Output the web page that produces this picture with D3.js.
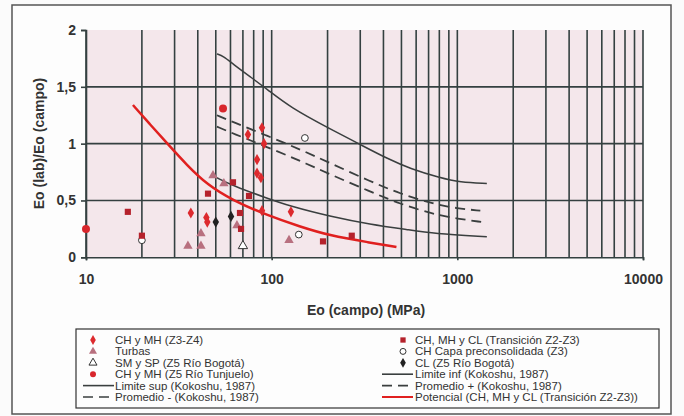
<!DOCTYPE html>
<html>
<head>
<meta charset="utf-8">
<script src="https://cdn.jsdelivr.net/npm/d3@7"></script>
<style>
  body { margin: 0; background: #fbfbfb; }
  svg { font-family: "Liberation Sans", Arial, sans-serif; }
  .tick-lbl { font-size: 14px; font-weight: bold; fill: #333; }
  .leg { font-size: 11.5px; fill: #333; }
</style>
</head>
<body>
<div id="chart"></div>
<script>
// points: [Eo campo (MPa), Eo lab / Eo campo]
var chMhZ3Z4 = [[36.7, 0.39], [44.5, 0.35], [45, 0.31], [74.5, 1.08], [88.7, 1.14], [91, 1.0],
                [83.4, 0.86], [83.4, 0.74], [87.5, 0.70], [88.7, 0.41], [127, 0.40]];
var turbas = [[35.4, 0.10], [41.6, 0.21], [41.6, 0.10], [48.3, 0.72], [55.3, 0.65], [65, 0.28], [124, 0.15]];
var smSp = [[70, 0.10]];
var chMhTunjuelo = [[10, 0.25], [54.7, 1.31]];
var transicion = [[16.8, 0.40], [20, 0.19], [45.4, 0.56], [61.9, 0.66], [75.5, 0.54], [67.5, 0.39],
                  [68.4, 0.25], [189, 0.14], [270, 0.19]];
var capaPrecons = [[151, 1.05], [20, 0.15], [140, 0.20]];
var clBogota = [[50, 0.31], [60.4, 0.36]];

// curves
var limiteSup = [[50.7, 1.79], [55, 1.77], [61.9, 1.70], [76.4, 1.59], [94.4, 1.48], [125.6, 1.32], [206, 1.13],
                 [310, 0.98], [418, 0.87], [556, 0.78], [806, 0.70], [1033, 0.66], [1442, 0.65]];
var promedioMas = [[50.7, 1.25], [61.9, 1.19], [94.4, 1.07], [142, 0.95], [206, 0.83], [338, 0.67],
                   [490, 0.56], [740, 0.47], [1000, 0.43], [1330, 0.41]];
var promedioMenos = [[50.7, 1.15], [61.9, 1.09], [94.4, 0.97], [142, 0.85], [206, 0.73], [338, 0.58],
                     [490, 0.47], [740, 0.38], [1000, 0.34], [1360, 0.31]];
var limiteInf = [[50.7, 0.70], [61.9, 0.63], [94.4, 0.52], [125.6, 0.45], [206, 0.36], [338, 0.29],
                 [556, 0.24], [740, 0.21], [1442, 0.18]];
var potencial = [[17.9, 1.34], [22.1, 1.17], [27.3, 1.005], [35, 0.81], [44.9, 0.64], [61.9, 0.50],
                 [94.4, 0.37], [142, 0.27], [206, 0.19], [338, 0.13], [470, 0.09]];

var xTickLabels = [10, 100, 1000, 10000];
var yTickLabels = [0, 0.5, 1, 1.5, 2];

var W = 684, H = 416;
var svg = d3.select("#chart").append("svg").attr("width", W).attr("height", H);

// outer frame
svg.append("rect").attr("x", 12).attr("y", 5).attr("width", 659).attr("height", 409)
    .attr("fill", "#fdfdfd").attr("stroke", "#555").attr("stroke-width", 1.5);

var x = d3.scaleLog().domain([10, 10000]).range([86, 643]);
var y = d3.scaleLinear().domain([0, 2]).range([257.3, 30]);

// plot background
svg.append("rect").attr("x", x(10)).attr("y", y(2))
    .attr("width", x(10000) - x(10)).attr("height", y(0) - y(2))
    .attr("fill", "#f4e7eb");

var gridColor = "#344040";

// vertical grid at every log tick
svg.append("g").selectAll("line").data(x.ticks()).enter().append("line")
    .attr("x1", function(d){ return x(d); }).attr("x2", function(d){ return x(d); })
    .attr("y1", y(2)).attr("y2", y(0))
    .attr("stroke", gridColor).attr("stroke-width", 1.6);

// horizontal grid
svg.append("g").selectAll("line").data([0.5, 1, 1.5]).enter().append("line")
    .attr("x1", x(10)).attr("x2", x(10000))
    .attr("y1", function(d){ return y(d); }).attr("y2", function(d){ return y(d); })
    .attr("stroke", gridColor).attr("stroke-width", 1.6);

// axes
var xAxis = d3.axisBottom(x).tickValues(xTickLabels).tickFormat(d3.format("d")).tickSize(3).tickPadding(14);
var yAxis = d3.axisLeft(y).tickValues(yTickLabels)
    .tickFormat(function(d){ return String(d).replace(".", ","); }).tickSize(5).tickPadding(5);

var gx = svg.append("g").attr("transform", "translate(0," + y(0) + ")").call(xAxis);
var gy = svg.append("g").attr("transform", "translate(" + x(10) + ",0)").call(yAxis);
[gx, gy].forEach(function(g){
    g.select(".domain").attr("stroke", gridColor).attr("stroke-width", 1.6);
    g.selectAll(".tick line").attr("stroke", gridColor).attr("stroke-width", 1.6);
    g.selectAll(".tick text").attr("class", "tick-lbl").attr("font-family", null).attr("font-size", null);
});

// axis titles
svg.append("text").attr("x", 366).attr("y", 315).attr("text-anchor", "middle")
    .attr("class", "tick-lbl").style("font-size", "14px").text("Eo (campo) (MPa)");
svg.append("text").attr("transform", "translate(44,143.5) rotate(-90)").attr("text-anchor", "middle")
    .attr("class", "tick-lbl").style("font-size", "14px").text("Eo (lab)/Eo (campo)");

// curves
var line = d3.line().x(function(d){ return x(d[0]); }).y(function(d){ return y(d[1]); }).curve(d3.curveBasis);
var curveStyles = [
    { data: limiteSup, color: "#3a3f3f", width: 1.5, dash: null },
    { data: promedioMas, color: "#3a3f3f", width: 1.8, dash: "10,6" },
    { data: promedioMenos, color: "#3a3f3f", width: 1.8, dash: "10,6" },
    { data: limiteInf, color: "#3a3f3f", width: 1.5, dash: null },
    { data: potencial, color: "#e0201f", width: 2.5, dash: null }
];
curveStyles.forEach(function(c){
    svg.append("path").datum(c.data).attr("d", line)
        .attr("fill", "none").attr("stroke", c.color).attr("stroke-width", c.width)
        .attr("stroke-dasharray", c.dash);
});

// markers
var series = [
    { data: turbas, shape: d3.symbolTriangle, size: 38, fill: "#b8707f", stroke: "none" },
    { data: smSp, shape: d3.symbolTriangle, size: 38, fill: "#fff", stroke: "#333" },
    { data: capaPrecons, shape: d3.symbolCircle, size: 36, fill: "#fff", stroke: "#333" },
    { data: transicion, shape: d3.symbolSquare, size: 38, fill: "#b5222c", stroke: "none" },
    { data: chMhZ3Z4, shape: d3.symbolDiamond, size: 36, fill: "#dd2a2e", stroke: "none" },
    { data: chMhTunjuelo, shape: d3.symbolCircle, size: 50, fill: "#d8262c", stroke: "none" },
    { data: clBogota, shape: d3.symbolDiamond, size: 36, fill: "#222", stroke: "none" }
];
series.forEach(function(s){
    svg.append("g").selectAll("path").data(s.data).enter().append("path")
        .attr("transform", function(d){ return "translate(" + x(d[0]) + "," + y(d[1]) + ")"; })
        .attr("d", d3.symbol().type(s.shape).size(s.size))
        .attr("fill", s.fill).attr("stroke", s.stroke).attr("stroke-width", 1);
});

// legend
var legendLeft = [
    { label: "CH y MH (Z3-Z4)", kind: "sym", shape: d3.symbolDiamond, fill: "#dd2a2e", stroke: "none" },
    { label: "Turbas", kind: "sym", shape: d3.symbolTriangle, fill: "#b8707f", stroke: "none" },
    { label: "SM y SP (Z5 Río Bogotá)", kind: "sym", shape: d3.symbolTriangle, fill: "#fff", stroke: "#333" },
    { label: "CH y MH (Z5 Río Tunjuelo)", kind: "sym", shape: d3.symbolCircle, fill: "#d8262c", stroke: "none" },
    { label: "Limite sup (Kokoshu, 1987)", kind: "line", color: "#3a3f3f", dash: null },
    { label: "Promedio - (Kokoshu, 1987)", kind: "line", color: "#3a3f3f", dash: "10,6" }
];
var legendRight = [
    { label: "CH, MH y CL (Transición Z2-Z3)", kind: "sym", shape: d3.symbolSquare, fill: "#b5222c", stroke: "none" },
    { label: "CH Capa preconsolidada (Z3)", kind: "sym", shape: d3.symbolCircle, fill: "#fff", stroke: "#333" },
    { label: "CL (Z5 Río Bogotá)", kind: "sym", shape: d3.symbolDiamond, fill: "#222", stroke: "none" },
    { label: "Limite inf (Kokoshu, 1987)", kind: "line", color: "#3a3f3f", dash: null },
    { label: "Promedio + (Kokoshu, 1987)", kind: "line", color: "#3a3f3f", dash: "10,6" },
    { label: "Potencial (CH, MH y CL (Transición Z2-Z3))", kind: "line", color: "#e0201f", dash: null }
];

svg.append("rect").attr("x", 76).attr("y", 329).attr("width", 583).attr("height", 79)
    .attr("fill", "#fdfdfd").attr("stroke", "#333").attr("stroke-width", 1.2);

function drawLegend(items, symX, lineX0, lineX1, textX){
    items.forEach(function(it, i){
        var cy = 340 + i * 11.4;
        if (it.kind === "sym") {
            svg.append("path").attr("transform", "translate(" + symX + "," + cy + ")")
                .attr("d", d3.symbol().type(it.shape).size(28))
                .attr("fill", it.fill).attr("stroke", it.stroke).attr("stroke-width", 1);
        } else {
            svg.append("line").attr("x1", lineX0).attr("x2", lineX1).attr("y1", cy).attr("y2", cy)
                .attr("stroke", it.color).attr("stroke-width", it.color === "#e0201f" ? 2 : 1.6)
                .attr("stroke-dasharray", it.dash);
        }
        svg.append("text").attr("class", "leg").attr("x", textX).attr("y", cy + 4).text(it.label);
    });
}
drawLegend(legendLeft, 93, 83, 114, 115);
drawLegend(legendRight, 403, 382, 413, 415);
</script>
</body>
</html>
